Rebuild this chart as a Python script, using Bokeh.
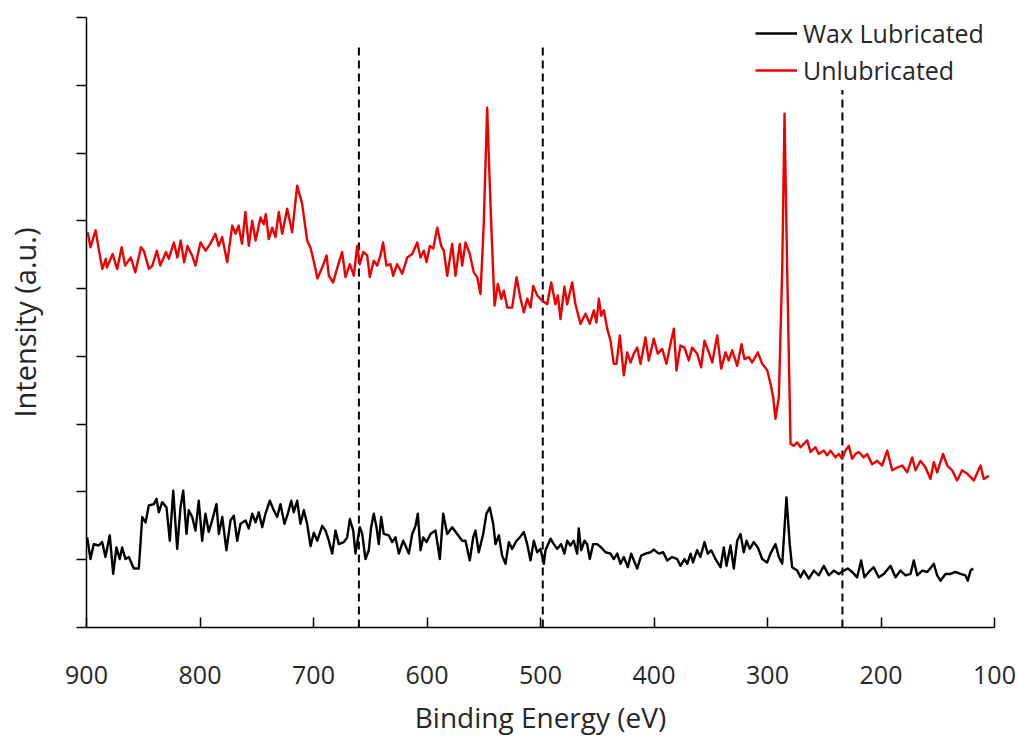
from bokeh.plotting import figure
from bokeh.models import Range1d, FixedTicker, Legend, LegendItem, ColumnDataSource
from bokeh.embed import file_html
from bokeh.resources import INLINE

# ---- data (binding energy in eV, intensity in arbitrary units) ----
red_ev = [898.9, 896.5, 892.0, 889.0, 886.0, 883.0, 882.0, 877.0, 873.0, 869.0, 866.0, 861.0, 857.0, 852.0,
          849.5, 845.0, 842.0, 838.0, 835.0, 830.0, 827.5, 823.0, 820.0, 817.0, 814.0, 811.0, 807.0, 804.0,
          799.6, 795.0, 791.0, 786.5, 783.5, 780.5, 776.0, 771.6, 768.7, 766.0, 763.0, 760.0, 757.0, 754.0,
          751.0, 746.7, 743.8, 742.0, 739.4, 736.4, 733.5, 730.6, 727.6, 723.2, 718.8, 714.4, 710.0, 705.6,
          702.6, 699.7, 696.5, 692.3, 688.5, 686.5, 682.7, 679.0, 674.8, 671.8, 668.0, 664.5, 661.5, 659.2,
          656.2, 652.7, 650.4, 646.9, 643.9, 641.0, 638.7, 635.7, 632.2, 629.8, 626.3, 621.8, 617.4, 613.0,
          608.6, 605.7, 602.8, 600.4, 597.5, 594.5, 591.0, 587.5, 585.2, 582.2, 577.8, 574.9, 571.1, 569.0,
          566.1, 562.3, 558.8, 555.8, 552.9, 550.0, 547.0, 544.0, 540.5, 537.6, 534.6, 532.3, 529.3, 525.0,
          521.1, 517.6, 514.7, 511.7, 508.8, 506.4, 502.9, 498.5, 494.1, 490.6, 486.8, 484.7, 482.4, 478.9,
          476.5, 472.1, 469.2, 464.8, 460.4, 456.6, 453.0, 450.7, 448.6, 446.5, 444.2, 441.2, 438.3, 435.4,
          433.0, 430.1, 426.6, 423.6, 420.7, 417.8, 414.8, 411.9, 407.5, 404.6, 400.2, 396.7, 392.8, 389.0,
          385.5, 382.5, 380.2, 376.7, 373.1, 369.4, 366.4, 362.0, 358.5, 355.5, 351.7, 348.7, 344.3, 340.8,
          337.0, 334.1, 331.1, 326.7, 322.9, 320.3, 316.5, 313.5, 308.5, 304.7, 300.3, 297.4, 295.0, 293.0,
          290.0, 287.0, 285.0, 282.7, 279.7, 276.8, 273.8, 270.9, 268.0, 265.0, 262.1, 257.7, 254.8, 250.4,
          247.4, 244.5, 240.1, 237.2, 234.2, 231.3, 228.4, 225.4, 222.5, 219.6, 215.2, 212.2, 207.8, 203.4,
          199.0, 194.5, 190.1, 185.7, 181.3, 176.9, 172.5, 169.6, 165.2, 160.8, 156.4, 153.5, 150.5, 145.3,
          141.7, 137.3, 132.9, 128.5, 124.1, 118.2, 112.3, 109.4, 105.0]
red_int = [5.83, 5.61, 5.86, 5.56, 5.29, 5.44, 5.31, 5.51, 5.29, 5.61, 5.34, 5.46, 5.24, 5.61,
           5.56, 5.29, 5.34, 5.56, 5.34, 5.54, 5.44, 5.68, 5.46, 5.71, 5.39, 5.63, 5.49, 5.34,
           5.68, 5.56, 5.66, 5.81, 5.63, 5.76, 5.39, 5.93, 5.81, 5.93, 5.66, 6.13, 5.63, 6.00,
           5.71, 6.05, 5.95, 6.10, 5.73, 5.90, 5.76, 6.13, 5.81, 6.18, 5.83, 6.52, 6.25, 5.71,
           5.60, 5.40, 5.15, 5.31, 5.49, 5.19, 5.09, 5.31, 5.54, 5.17, 5.36, 5.19, 5.63, 5.36,
           5.54, 5.49, 5.17, 5.41, 5.34, 5.49, 5.68, 5.34, 5.36, 5.19, 5.36, 5.22, 5.46, 5.51,
           5.68, 5.46, 5.56, 5.39, 5.63, 5.59, 5.90, 5.63, 5.56, 5.19, 5.66, 5.19, 5.66, 5.34,
           5.68, 5.51, 5.24, 5.17, 4.92, 5.95, 7.67, 6.20, 4.75, 5.07, 4.85, 4.97, 4.72, 4.72,
           5.17, 4.85, 4.65, 4.85, 4.72, 5.04, 4.90, 4.82, 4.77, 5.09, 4.77, 4.90, 4.55, 5.03,
           4.77, 5.09, 4.77, 4.48, 4.63, 4.48, 4.68, 4.50, 4.85, 4.60, 4.68, 4.41, 4.23, 3.89,
           3.89, 4.31, 3.72, 4.06, 3.91, 4.04, 4.13, 3.89, 4.28, 3.94, 4.26, 4.04, 4.11, 3.89,
           4.18, 4.41, 3.79, 4.16, 4.13, 3.94, 4.13, 4.04, 3.84, 4.23, 4.06, 3.91, 4.31, 3.82,
           4.06, 3.94, 4.09, 3.86, 4.18, 3.96, 3.99, 3.91, 4.06, 3.89, 3.80, 3.60, 3.40, 3.08,
           3.40, 5.31, 7.58, 5.31, 2.71, 2.68, 2.73, 2.66, 2.71, 2.76, 2.59, 2.66, 2.56, 2.61,
           2.54, 2.61, 2.51, 2.56, 2.49, 2.61, 2.68, 2.49, 2.56, 2.59, 2.51, 2.56, 2.41, 2.46,
           2.39, 2.61, 2.32, 2.36, 2.39, 2.29, 2.51, 2.32, 2.46, 2.36, 2.19, 2.44, 2.29, 2.56,
           2.39, 2.32, 2.17, 2.32, 2.27, 2.17, 2.39, 2.19, 2.24]

black_ev = [899.4, 896.5, 893.6, 889.2, 886.2, 883.3, 879.5, 876.5, 873.6, 870.7, 868.6, 865.6, 862.7, 858.3,
            853.9, 850.9, 848.0, 845.1, 840.7, 838.3, 836.3, 833.3, 829.5, 826.6, 823.6, 820.1, 817.2, 814.8,
            811.9, 809.9, 806.9, 804.0, 801.1, 798.1, 795.2, 792.3, 789.3, 785.5, 783.4, 780.4, 776.7, 773.1,
            770.2, 767.2, 764.3, 759.9, 757.0, 754.0, 751.1, 748.2, 745.2, 742.3, 738.5, 735.0, 732.0, 729.1,
            725.6, 722.6, 719.6, 717.4, 714.4, 711.5, 708.5, 705.6, 702.6, 699.7, 696.7, 692.3, 689.4, 686.5,
            683.5, 680.6, 677.7, 673.3, 670.3, 668.0, 665.0, 663.0, 659.2, 657.1, 654.2, 651.3, 649.2, 646.9,
            644.5, 642.5, 640.4, 638.1, 633.7, 630.7, 627.8, 624.8, 621.0, 619.0, 616.0, 613.0, 610.1, 608.1,
            605.7, 603.3, 600.4, 596.9, 592.5, 588.7, 585.7, 582.2, 577.8, 573.4, 569.0, 566.1, 562.3, 559.3,
            557.3, 554.4, 550.5, 547.6, 544.7, 541.7, 539.6, 536.7, 533.8, 530.8, 527.9, 525.0, 521.1, 518.2,
            514.7, 511.7, 508.8, 505.9, 502.9, 500.0, 497.1, 495.6, 491.2, 488.3, 485.3, 481.8, 478.9, 476.5,
            473.6, 470.7, 467.7, 466.3, 464.2, 461.2, 458.9, 456.6, 453.6, 450.1, 446.5, 442.7, 438.3, 435.4,
            432.4, 429.5, 426.6, 423.1, 420.1, 417.8, 414.8, 411.3, 407.5, 403.1, 400.2, 395.8, 391.9, 388.4,
            384.0, 379.6, 376.7, 373.1, 370.7, 367.8, 365.6, 362.0, 359.1, 355.5, 352.6, 349.6, 345.8, 341.4,
            338.5, 336.1, 332.6, 329.7, 326.7, 323.8, 320.9, 318.5, 315.6, 312.1, 308.5, 304.7, 300.3, 297.4,
            293.0, 290.0, 287.0, 283.3, 280.4, 278.3, 273.8, 270.9, 268.0, 263.6, 259.2, 254.8, 250.4, 246.0,
            241.6, 237.2, 232.8, 229.3, 225.4, 221.0, 217.5, 214.6, 210.8, 206.4, 202.0, 197.5, 191.6, 187.2,
            182.8, 178.4, 174.0, 171.1, 168.1, 163.7, 159.3, 155.8, 153.5, 150.5, 147.6, 143.2, 138.8, 134.4,
            130.0, 125.6, 123.5, 121.1, 118.8]
black_int = [1.33, 1.01, 1.23, 1.21, 1.26, 1.04, 1.36, 0.79, 1.18, 1.01, 1.18, 1.01, 1.04, 0.87,
             0.87, 1.63, 1.55, 1.80, 1.82, 1.90, 1.70, 1.85, 1.77, 1.28, 2.02, 1.16, 1.77, 2.02,
             1.38, 1.73, 1.63, 1.43, 1.87, 1.28, 1.68, 1.41, 1.58, 1.82, 1.38, 1.63, 1.14, 1.58,
             1.65, 1.28, 1.53, 1.58, 1.46, 1.68, 1.55, 1.70, 1.48, 1.68, 1.87, 1.73, 1.63, 1.82,
             1.53, 1.68, 1.87, 1.70, 1.87, 1.53, 1.73, 1.53, 1.20, 1.40, 1.28, 1.50, 1.43, 1.28,
             1.09, 1.43, 1.23, 1.26, 1.33, 1.60, 1.43, 1.09, 1.48, 1.38, 1.01, 1.14, 1.48, 1.68,
             1.48, 1.23, 1.63, 1.38, 1.36, 1.26, 1.33, 1.09, 1.28, 1.21, 1.09, 1.38, 1.50, 1.68,
             1.14, 1.33, 1.26, 1.38, 1.43, 1.01, 1.68, 1.38, 1.48, 1.38, 1.28, 1.28, 0.99, 1.33,
             1.43, 1.11, 1.38, 1.68, 1.77, 1.53, 1.23, 1.36, 1.06, 0.94, 1.26, 1.16, 1.28, 1.33,
             1.41, 1.23, 0.99, 1.28, 1.11, 1.16, 0.94, 1.14, 1.31, 1.23, 1.16, 1.23, 1.09, 1.28,
             1.21, 1.28, 1.09, 1.46, 1.14, 1.28, 1.23, 1.01, 1.23, 1.23, 1.18, 1.11, 1.09, 1.01,
             1.09, 0.94, 1.04, 0.89, 1.09, 0.99, 0.87, 1.06, 1.09, 1.11, 1.15, 1.09, 1.11, 0.99,
             1.04, 1.01, 0.91, 1.01, 0.94, 1.09, 0.96, 1.14, 1.04, 1.26, 1.09, 1.14, 1.01, 0.89,
             1.18, 0.91, 1.21, 0.87, 1.28, 1.38, 1.11, 1.28, 1.16, 1.26, 1.18, 1.01, 0.96, 1.09,
             1.23, 1.04, 0.94, 1.92, 1.23, 0.89, 0.84, 0.74, 0.84, 0.72, 0.84, 0.77, 0.91, 0.77,
             0.84, 0.79, 0.84, 0.87, 0.82, 0.74, 0.99, 0.74, 0.82, 0.89, 0.74, 0.79, 0.91, 0.74,
             0.84, 0.77, 0.79, 0.99, 0.77, 0.84, 0.82, 0.89, 0.94, 0.77, 0.69, 0.79, 0.79, 0.82,
             0.79, 0.77, 0.69, 0.84, 0.87]

marker_ev = [660, 498, 234]          # dashed reference lines
marker_top = [8.61, 8.61, 7.93]
x_ticks = [900, 800, 700, 600, 500, 400, 300, 200, 100]
y_ticks = [0, 1, 2, 3, 4, 5, 6, 7, 8, 9]

FONT = "Open Sans"
TXT = "#262626"

p = figure(width=1018, height=739, output_backend="svg", toolbar_location=None,
           x_range=Range1d(900, 100), y_range=Range1d(0, 9),
           min_border_left=86, min_border_right=24, min_border_top=17, min_border_bottom=112)
p.outline_line_color = None
p.xgrid.grid_line_color = None
p.ygrid.grid_line_color = None
p.background_fill_color = "white"
p.border_fill_color = "white"

# dashed markers
msrc = ColumnDataSource(dict(x=marker_ev, top=marker_top, base=[0] * len(marker_ev)))
p.segment(x0="x", y0="base", x1="x", y1="top", source=msrc,
          line_color="black", line_width=2, line_dash="8 5")

r_red = p.line(red_ev, red_int, line_color="#ee0000", line_width=2.4, line_join="round")
r_blk = p.line(black_ev, black_int, line_color="black", line_width=2.4, line_join="round")

# x axis
xa = p.xaxis[0]
xa.ticker = FixedTicker(ticks=x_ticks)
xa.minor_tick_line_color = None
xa.major_tick_in = 10
xa.major_tick_out = 0
xa.axis_line_color = "black"
xa.axis_line_width = 1.5
xa.major_tick_line_width = 1.5
xa.major_label_text_font = FONT
xa.major_label_text_font_size = "25px"
xa.major_label_text_color = TXT
xa.major_label_standoff = 38
xa.axis_label = "Binding Energy (eV)"
xa.axis_label_text_font = FONT
xa.axis_label_text_font_size = "28px"
xa.axis_label_text_font_style = "normal"
xa.axis_label_text_color = TXT
xa.axis_label_standoff = 11

# y axis (ticks without labels)
ya = p.yaxis[0]
ya.ticker = FixedTicker(ticks=y_ticks)
ya.minor_tick_line_color = None
ya.major_tick_in = 0
ya.major_tick_out = 10
ya.axis_line_color = "black"
ya.axis_line_width = 1.5
ya.major_tick_line_width = 1.5
ya.major_label_text_color = None
ya.major_label_text_font_size = "1px"
ya.major_label_standoff = 0
ya.axis_label = "Intensity (a.u.)"
ya.axis_label_text_font = FONT
ya.axis_label_text_font_size = "29px"
ya.axis_label_text_font_style = "normal"
ya.axis_label_text_color = TXT
ya.axis_label_standoff = 33

legend = Legend(items=[LegendItem(label="Wax Lubricated", renderers=[r_blk]),
                       LegendItem(label="Unlubricated", renderers=[r_red])],
                location=(669, 540))
legend.label_text_font = FONT
legend.label_text_font_size = "25px"
legend.label_text_color = TXT
legend.glyph_width = 42
legend.glyph_height = 24
legend.label_standoff = 6
legend.spacing = 3
legend.padding = 0
legend.margin = 0
legend.border_line_color = None
legend.background_fill_alpha = 0
p.add_layout(legend)

open("out.html", "w").write(file_html(p, INLINE))
